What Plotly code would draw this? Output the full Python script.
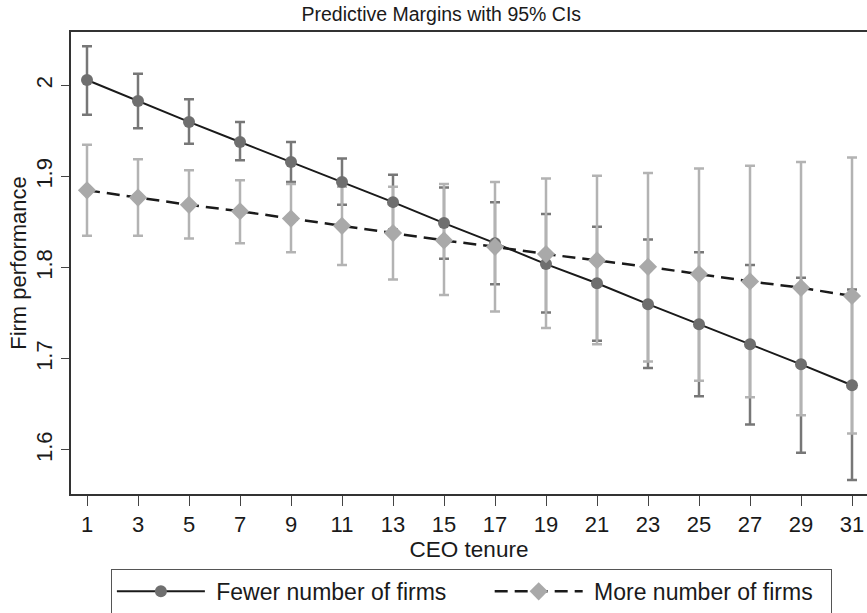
import plotly.graph_objects as go

tenure = [1, 3, 5, 7, 9, 11, 13, 15, 17, 19, 21, 23, 25, 27, 29, 31]
fewer_est = [2.006, 1.983, 1.960, 1.938, 1.916, 1.894, 1.872, 1.849, 1.827, 1.804, 1.783, 1.760, 1.738, 1.716, 1.694, 1.671]
fewer_hi = [2.043, 2.013, 1.985, 1.960, 1.938, 1.920, 1.902, 1.888, 1.872, 1.859, 1.845, 1.831, 1.817, 1.803, 1.789, 1.776]
fewer_lo = [1.968, 1.953, 1.936, 1.918, 1.894, 1.869, 1.842, 1.810, 1.782, 1.751, 1.720, 1.690, 1.659, 1.628, 1.597, 1.567]
more_est = [1.885, 1.877, 1.869, 1.862, 1.854, 1.846, 1.838, 1.830, 1.823, 1.815, 1.808, 1.801, 1.793, 1.785, 1.778, 1.769]
more_hi = [1.935, 1.919, 1.907, 1.896, 1.892, 1.889, 1.889, 1.892, 1.894, 1.898, 1.901, 1.904, 1.909, 1.912, 1.916, 1.921]
more_lo = [1.835, 1.835, 1.832, 1.827, 1.817, 1.803, 1.787, 1.770, 1.752, 1.734, 1.716, 1.697, 1.676, 1.658, 1.638, 1.618]

series_names = ["Fewer number of firms", "More number of firms"]
y_ticks = [1.6, 1.7, 1.8, 1.9, 2.0]
y_labels = ["1.6", "1.7", "1.8", "1.9", "2"]

DARK = "#6f6f6f"
DARK_BAR = "#777777"
LIGHT = "#a9a9a9"
LIGHT_BAR = "#b3b3b3"
TEXT = "#1a1a1a"
FONT = "Liberation Sans, Arial, sans-serif"
NB = "\u00a0"

def err(est, hi, lo):
    return dict(type="data", symmetric=False,
                array=[h - e for h, e in zip(hi, est)],
                arrayminus=[e - l for e, l in zip(est, lo)])

fig = go.Figure()
# CI bars
e = err(fewer_est, fewer_hi, fewer_lo)
e.update(color=DARK_BAR, thickness=2.5, width=5)
fig.add_trace(go.Scatter(x=tenure, y=fewer_est, mode="markers", marker=dict(size=1, opacity=0),
                         error_y=e, showlegend=False, hoverinfo="skip"))
e = err(more_est, more_hi, more_lo)
e.update(color=LIGHT_BAR, thickness=2.5, width=5)
fig.add_trace(go.Scatter(x=tenure, y=more_est, mode="markers", marker=dict(size=1, opacity=0),
                         error_y=e, showlegend=False, hoverinfo="skip"))
# lines + markers
fig.add_trace(go.Scatter(x=tenure, y=fewer_est, mode="lines+markers",
                         name=NB + series_names[0] + NB * 6,
                         line=dict(color=TEXT, width=2),
                         marker=dict(symbol="circle", size=12, color=DARK)))
fig.add_trace(go.Scatter(x=tenure, y=more_est, mode="lines+markers",
                         name=NB + series_names[1] + NB * 2,
                         line=dict(color=TEXT, width=2.5, dash="13px,7px"),
                         marker=dict(symbol="diamond", size=14, color=LIGHT)))

fig.update_layout(
    width=867, height=613,
    margin=dict(l=71, r=0, t=32, b=119, autoexpand=False),
    paper_bgcolor="white", plot_bgcolor="white",
    font=dict(family=FONT, color=TEXT),
    title=dict(text="Predictive Margins with 95% CIs", x=0.509, xanchor="center",
               y=1 - 14 / 613, yanchor="middle", font=dict(size=19.5, color=TEXT)),
    xaxis=dict(range=[0.3725, 31.588], tickvals=tenure, ticks="outside", ticklen=10,
               tickcolor="#444", tickwidth=1.2, showgrid=False, zeroline=False,
               showline=True, linecolor="#333", linewidth=1.5, mirror=True,
               tickfont=dict(size=22), automargin=False,
               title=dict(text="CEO tenure", font=dict(size=22.5), standoff=0)),
    yaxis=dict(range=[1.5517, 2.0587], tickvals=y_ticks, ticktext=y_labels, ticks="outside",
               ticklen=8, tickcolor="#444", tickwidth=1.2, tickangle=-90,
               showgrid=False, zeroline=False, showline=True, linecolor="#333", linewidth=1.5,
               tickfont=dict(size=22), automargin=False,
               title=dict(text="Firm performance", font=dict(size=22), standoff=0)),
    legend=dict(orientation="h", x=0.503, xanchor="center", y=-0.162, yanchor="top",
                bordercolor="#555", borderwidth=1, bgcolor="white",
                font=dict(size=23), itemwidth=88, traceorder="normal"),
)

fig.write_html("out.html", post_script="document.body.style.margin='0';",
               config={"displayModeBar": False})
